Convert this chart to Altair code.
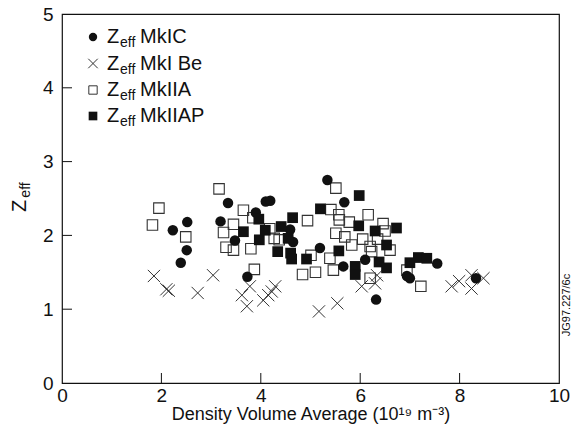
import altair as alt
import pandas as pd

# ---- data ----
mkic_x = [2.23, 2.52, 2.51, 2.39, 3.19, 3.34, 3.90, 4.10, 4.19, 3.48, 4.59, 4.65, 3.73,
          5.19, 5.34, 5.68, 5.66, 6.10, 6.32, 6.94, 7.00, 7.55, 8.33]
mkic_y = [2.07, 2.18, 1.80, 1.63, 2.19, 2.44, 2.31, 2.46, 2.47, 1.93, 2.08, 1.91, 1.44,
          1.83, 2.75, 2.45, 1.58, 1.67, 1.13, 1.45, 1.42, 1.62, 1.42]

mkibe_x = [1.85, 2.10, 2.15, 2.73, 3.04, 3.62, 3.78, 3.72, 4.05, 4.15, 4.22, 4.29, 5.17,
           5.54, 6.03, 6.34, 6.30, 7.84, 7.99, 8.24, 8.24, 8.48]
mkibe_y = [1.45, 1.27, 1.25, 1.22, 1.46, 1.19, 1.31, 1.04, 1.12, 1.19, 1.24, 1.31, 0.97,
           1.08, 1.31, 1.46, 1.35, 1.31, 1.38, 1.46, 1.28, 1.42]

mkiia_x = [1.95, 1.82, 2.49, 3.16, 3.65, 3.45, 3.25, 3.30, 3.45, 3.80, 4.27, 3.87, 4.94,
           4.84, 5.01, 5.10, 5.51, 5.41, 5.57, 5.58, 5.78, 6.16, 6.46, 5.51, 5.69, 5.83,
           6.20, 6.60, 5.39, 5.46, 6.20, 7.22, 6.94, 6.23, 4.37, 4.18, 3.84, 6.50, 6.05,
           6.35]
mkiia_y = [2.37, 2.14, 1.98, 2.63, 2.34, 2.15, 2.04, 1.84, 1.80, 1.82, 1.96, 1.54, 2.20,
           1.47, 1.73, 1.50, 2.64, 2.35, 2.28, 2.21, 2.18, 2.28, 2.16, 2.03, 1.98, 1.87,
           1.85, 1.80, 1.69, 1.53, 1.42, 1.31, 1.53, 1.78, 1.94, 2.09, 2.24, 2.06, 1.95,
           1.95]

mkiiap_x = [3.96, 3.65, 3.97, 4.09, 4.41, 4.64, 4.34, 4.60, 4.62, 4.92, 5.20, 5.98, 5.97,
            6.30, 6.73, 6.53, 5.57, 5.90, 5.90, 6.38, 6.53, 7.00, 7.17, 7.34, 4.55]
mkiiap_y = [2.22, 2.05, 1.94, 2.07, 2.12, 2.24, 1.78, 1.76, 1.68, 1.68, 2.36, 2.54, 2.13,
            2.06, 2.10, 1.87, 1.79, 1.58, 1.47, 1.64, 1.56, 1.63, 1.70, 1.69, 1.96]

series_names = ["MkIC", "MkI Be", "MkIIA", "MkIIAP"]
x_ticks = [0, 2, 4, 6, 8, 10]
y_ticks = [0, 1, 2, 3, 4, 5]
inner_x_ticks = [2, 4, 6, 8]
inner_y_ticks = [1, 2, 3, 4]

INK = "#111111"
FONT = "Liberation Sans"
XPATH = "M-1,-1L1,1M-1,1L1,-1"

W, H = 497, 369

def df(xs, ys):
    return pd.DataFrame({"x": xs, "y": ys})

xs = alt.Scale(domain=[0, 10], nice=False, zero=False)
ys = alt.Scale(domain=[0, 5], nice=False, zero=False)

X = alt.X("x:Q", scale=xs, axis=alt.Axis(
    values=x_ticks, ticks=False, domain=False, grid=False, labelFontSize=19,
    labelFont=FONT, labelColor=INK, labelPadding=3, labelFlush=False,
    labelOverlap=False, format="d",
    title="Density Volume Average (10¹⁹ m⁻³)", titleFont=FONT,
    titleFontSize=18, titleFontWeight="normal", titleColor=INK, titlePadding=0))
Y = alt.Y("y:Q", scale=ys, axis=alt.Axis(
    values=y_ticks, ticks=False, domain=False, grid=False, labelFontSize=19,
    labelFont=FONT, labelColor=INK, labelPadding=9, labelFlush=False,
    labelOverlap=False, format="d", title=None))

circles = alt.Chart(df(mkic_x, mkic_y)).mark_point(
    shape="circle", filled=True, color=INK, size=110, opacity=1).encode(x=X, y=Y)
crosses = alt.Chart(df(mkibe_x, mkibe_y)).mark_point(
    shape=XPATH, filled=False, color="#333333", size=150, strokeWidth=1,
    opacity=1).encode(x=X, y=Y)
open_sq = alt.Chart(df(mkiia_x, mkiia_y)).mark_point(
    shape="square", filled=False, color="#333333", size=110, strokeWidth=1.1,
    opacity=1).encode(x=X, y=Y)
fill_sq = alt.Chart(df(mkiiap_x, mkiiap_y)).mark_point(
    shape="square", filled=True, color=INK, size=115, opacity=1).encode(x=X, y=Y)

xt = alt.Chart(pd.DataFrame({"x": inner_x_ticks})).mark_rule(
    color=INK, strokeWidth=1).encode(x=X, y=alt.value(H), y2=alt.value(H - 10))
yt = alt.Chart(pd.DataFrame({"y": inner_y_ticks})).mark_rule(
    color=INK, strokeWidth=1).encode(y=Y, x=alt.value(0), x2=alt.value(10))

# ---- legend (manual, for subscript) ----
leg_rows = [23, 49.5, 76, 102]
leg_shapes = ["circle", XPATH, "square", "square"]
leg_filled = [True, False, False, True]
leg_sizes = [70, 90, 70, 75]
layers = []
one = pd.DataFrame({"k": [0]})
for i, name in enumerate(series_names):
    yy = leg_rows[i]
    layers.append(alt.Chart(one).mark_point(
        shape=leg_shapes[i], filled=leg_filled[i], color=INK if leg_filled[i] else "#333333",
        size=leg_sizes[i], strokeWidth=1, opacity=1).encode(
        x=alt.value(31), y=alt.value(yy)))
    layers.append(alt.Chart(pd.DataFrame({"t": ["Z"]})).mark_text(
        font=FONT, fontSize=20, color=INK, align="left", baseline="middle").encode(
        text="t:N", x=alt.value(45), y=alt.value(yy)))
    layers.append(alt.Chart(pd.DataFrame({"t": ["eff"]})).mark_text(
        font=FONT, fontSize=14, color=INK, align="left", baseline="middle").encode(
        text="t:N", x=alt.value(58), y=alt.value(yy + 6)))
    layers.append(alt.Chart(pd.DataFrame({"t": [name]})).mark_text(
        font=FONT, fontSize=20, color=INK, align="left", baseline="middle").encode(
        text="t:N", x=alt.value(78), y=alt.value(yy)))

# ---- y title with subscript ----
ytitle_z = alt.Chart(pd.DataFrame({"t": ["Z"]})).mark_text(
    font=FONT, fontSize=20, color=INK, angle=270, align="center", baseline="middle").encode(
    text="t:N", x=alt.value(-42), y=alt.value(192))
ytitle_eff = alt.Chart(pd.DataFrame({"t": ["eff"]})).mark_text(
    font=FONT, fontSize=14, color=INK, angle=270, align="center", baseline="middle").encode(
    text="t:N", x=alt.value(-36), y=alt.value(176))

side = alt.Chart(pd.DataFrame({"t": ["JG97.227/6c"]})).mark_text(
    font=FONT, fontSize=11, color=INK, angle=270, align="center", baseline="middle").encode(
    text="t:N", x=alt.value(505), y=alt.value(291))

chart = alt.layer(
    xt, yt, open_sq, crosses, circles, fill_sq,
    *layers, ytitle_z, ytitle_eff, side
).properties(
    width=W, height=H,
    autosize=alt.AutoSizeParams(type="none"),
    padding={"left": 62, "top": 14, "right": 18, "bottom": 49},
).configure(background="white").configure_view(stroke=INK, strokeWidth=1.2)

chart.save("out.html", embed_options={"renderer": "svg", "actions": False})
